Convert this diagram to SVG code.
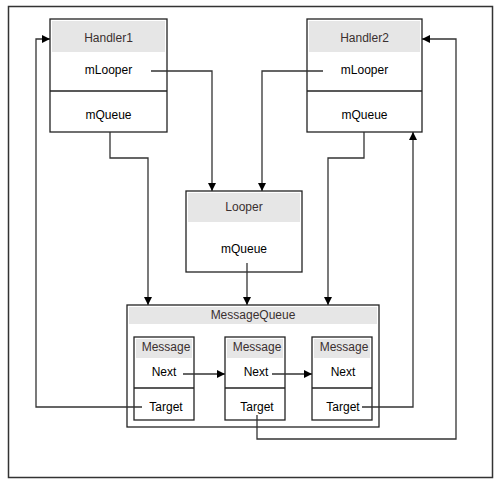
<svg xmlns="http://www.w3.org/2000/svg" width="500" height="484" viewBox="0 0 500 484">
<defs>
<marker id="arr" markerWidth="10" markerHeight="10" refX="9" refY="5" orient="auto" markerUnits="userSpaceOnUse">
<path d="M1,1 L9,5 L1,9 Z" fill="#000"/>
</marker>
<style>
.box{fill:#fff;stroke:#222;stroke-width:1.3}
.hdr{fill:#e6e6e6;stroke:none}
.div{stroke:#222;stroke-width:1.3}
text{font-family:"Liberation Sans",Arial,sans-serif;font-size:12px;text-anchor:middle;dominant-baseline:central}
.ht{fill:#3a3030}
.bt{fill:#000}
.conn path{fill:none;stroke:#333;stroke-width:1.3}
</style>
</defs>
<rect x="0" y="0" width="500" height="484" fill="#fff"/>
<rect x="8.5" y="6.5" width="484" height="471" fill="none" stroke="#333" stroke-width="1.5"/>

<g id="handler1">
<rect class="box" x="50" y="19" width="117" height="113"/>
<rect class="hdr" x="52" y="21" width="113" height="31"/>
<line class="div" x1="50" y1="91" x2="167" y2="91"/>
<text class="ht" x="108.5" y="38">Handler1</text>
<text class="bt" x="108.5" y="70">mLooper</text>
<text class="bt" x="108.5" y="115">mQueue</text>
</g>

<g id="handler2">
<rect class="box" x="307" y="19" width="115" height="113"/>
<rect class="hdr" x="309" y="21" width="111" height="31"/>
<line class="div" x1="307" y1="91" x2="422" y2="91"/>
<text class="ht" x="364.5" y="38">Handler2</text>
<text class="bt" x="364.5" y="70">mLooper</text>
<text class="bt" x="364.5" y="115">mQueue</text>
</g>

<g id="looper">
<rect class="box" x="186" y="191" width="116" height="81"/>
<rect class="hdr" x="188" y="193" width="112" height="29"/>
<text class="ht" x="244" y="207">Looper</text>
<text class="bt" x="244" y="249">mQueue</text>
</g>

<g id="messagequeue">
<rect class="box" x="127" y="305" width="252" height="122"/>
<rect class="hdr" x="129" y="307" width="248" height="17"/>
<text class="ht" x="253" y="315">MessageQueue</text>
</g>

<g id="message1">
<rect class="box" x="134" y="337" width="60" height="83"/>
<rect class="hdr" x="136" y="339" width="56" height="19"/>
<line class="div" x1="134" y1="388" x2="194" y2="388"/>
<text class="ht" x="166" y="347">Message</text>
<text class="bt" x="164" y="372">Next</text>
<text class="bt" x="166" y="407">Target</text>
</g>

<g id="message2">
<rect class="box" x="225" y="337" width="60" height="83"/>
<rect class="hdr" x="227" y="339" width="56" height="19"/>
<line class="div" x1="225" y1="388" x2="285" y2="388"/>
<text class="ht" x="257" y="347">Message</text>
<text class="bt" x="256" y="372">Next</text>
<text class="bt" x="257" y="407">Target</text>
</g>

<g id="message3">
<rect class="box" x="312" y="337" width="60" height="83"/>
<rect class="hdr" x="314" y="339" width="56" height="19"/>
<line class="div" x1="312" y1="388" x2="372" y2="388"/>
<text class="ht" x="344" y="347">Message</text>
<text class="bt" x="343" y="372">Next</text>
<text class="bt" x="343" y="407">Target</text>
</g>

<g id="connectors" class="conn">
<path d="M151,71 H212 V191" marker-end="url(#arr)"/>
<path d="M323,71 H262 V191" marker-end="url(#arr)"/>
<path d="M110,132 V158 H148 V305" marker-end="url(#arr)"/>
<path d="M364,132 V158 H328 V305" marker-end="url(#arr)"/>
<path d="M247,263 V305" marker-end="url(#arr)"/>
<path d="M183,374 H225" marker-end="url(#arr)"/>
<path d="M272,374 H312" marker-end="url(#arr)"/>
<path d="M142,407 H36 V39 H50" marker-end="url(#arr)"/>
<path d="M362,407 H413 V132" marker-end="url(#arr)"/>
<path d="M257,415 V439 H456 V39 H422" marker-end="url(#arr)"/>
</g>
</svg>
